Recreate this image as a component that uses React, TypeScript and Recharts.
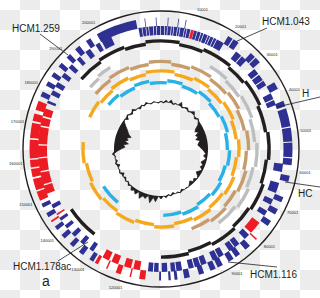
import React from 'react';
import {
  PieChart,
  Pie,
  Cell,
  RadarChart,
  Radar,
  PolarAngleAxis,
  PolarRadiusAxis
} from 'recharts';

// genome length in kb, everything is placed on this scale
const GENOME = 218;

// genes: [start kb, end kb, class] c = core (blue), i = island (red)
const fwdGenes = [
  [1.8, 2.0, 'c'], [4.6, 4.8, 'c'], [6.6, 6.8, 'c'],
  [18.6, 20.0, 'c'], [20.3, 21.9, 'c'], [26.1, 27.6, 'c'], [27.9, 29.5, 'c'],
  [36.0, 38.0, 'c'], [41.5, 43.0, 'c'], [43.6, 48.5, 'c'], [48.8, 52.5, 'c'],
  [52.8, 56.7, 'c'], [57.0, 58.8, 'c'], [61.6, 63.3, 'c'], [67.5, 69.0, 'c'],
  [71.0, 72.6, 'c'], [74.6, 76.2, 'c'], [80.6, 81.0, 'i'], [83.2, 84.8, 'c'],
  [86.6, 88.0, 'c'], [88.7, 90.2, 'c'], [92.0, 93.5, 'c'], [94.1, 95.6, 'c'],
  [97.4, 98.8, 'c'], [101.3, 102.8, 'c'], [104.6, 105.4, 'c'], [106.4, 107.0, 'c'],
  [109.0, 109.5, 'c'], [113.2, 114.8, 'i'], [117.0, 117.4, 'i'], [119.8, 121.2, 'i'],
  [123.6, 124.0, 'i'], [126.4, 127.3, 'i'], [127.8, 129.0, 'c'], [131.0, 132.4, 'c'],
  [134.3, 135.6, 'c'], [137.5, 138.8, 'c'], [140.5, 141.6, 'c'], [143.0, 143.5, 'i'],
  [144.6, 145.8, 'c'], [147.5, 148.6, 'c'], [149.5, 152.0, 'i'], [152.4, 155.5, 'i'],
  [156.0, 158.2, 'i'], [158.6, 160.6, 'i'], [161.0, 166.0, 'i'], [166.4, 170.5, 'i'],
  [171.0, 173.0, 'i'], [174.0, 176.5, 'i'], [177.8, 179.2, 'c'], [181.0, 182.3, 'c'],
  [183.8, 185.1, 'c'], [187.0, 188.3, 'c'], [190.2, 191.5, 'c'], [193.3, 194.8, 'c'],
  [196.9, 198.3, 'c'], [200.3, 211.3, 'c'], [213.6, 213.8, 'c'], [216.6, 216.8, 'c']
];

const revGenes = [
  [0, 0.9, 'c'], [1.1, 1.7, 'c'], [1.9, 2.8, 'c'], [3.0, 3.5, 'c'], [3.7, 4.6, 'c'],
  [4.8, 5.3, 'c'], [5.5, 6.6, 'c'], [6.8, 7.3, 'c'], [7.5, 8.4, 'c'], [8.6, 9.4, 'i'],
  [9.5, 10.3, 'c'], [10.5, 11.4, 'c'], [11.6, 12.2, 'c'], [12.4, 13.5, 'c'], [13.7, 14.2, 'c'],
  [14.4, 15.3, 'c'], [15.5, 16.2, 'c'], [16.4, 18.6, 'c'], [22.8, 24.6, 'c'], [24.9, 26.6, 'c'],
  [29.9, 31.7, 'c'], [32.0, 33.8, 'c'], [34.1, 35.6, 'c'], [38.2, 40.0, 'c'], [40.3, 41.8, 'c'],
  [58.7, 61.0, 'c'], [64.2, 67.2, 'c'], [69.2, 70.8, 'c'], [72.8, 74.4, 'c'], [76.8, 80.5, 'i'],
  [81.3, 83.0, 'c'], [85.0, 86.6, 'c'], [86.9, 88.5, 'c'], [90.4, 92.0, 'c'], [92.3, 93.9, 'c'],
  [95.8, 97.4, 'c'], [97.7, 99.3, 'c'], [99.6, 101.1, 'c'], [103.0, 104.6, 'c'], [104.9, 106.2, 'c'],
  [107.2, 108.8, 'c'], [109.7, 111.0, 'c'], [111.3, 112.7, 'c'], [115.0, 116.9, 'i'], [117.6, 119.6, 'i'],
  [121.4, 123.4, 'i'], [124.2, 126.2, 'i'], [129.3, 130.6, 'c'], [132.6, 133.9, 'c'], [135.9, 137.2, 'c'],
  [139.1, 140.2, 'c'], [141.9, 142.8, 'c'], [143.8, 144.3, 'i'], [146.0, 147.2, 'c'], [150.5, 153.0, 'i'],
  [153.4, 156.8, 'i'], [157.2, 160.8, 'i'], [161.2, 164.5, 'i'], [164.9, 169.8, 'i'], [170.2, 172.5, 'i'],
  [173.0, 175.2, 'i'], [176.8, 177.6, 'c'], [179.4, 180.8, 'c'], [182.0, 183.5, 'c'], [185.3, 186.7, 'c'],
  [188.5, 189.9, 'c'], [191.8, 193.0, 'c'], [195.0, 196.6, 'c'], [198.5, 199.8, 'c'], [200.5, 203.5, 'c'],
  [211.6, 212.5, 'c'], [212.7, 213.6, 'c'], [213.8, 214.4, 'c'], [214.6, 215.7, 'c'], [215.9, 216.6, 'c'],
  [216.8, 217.8, 'c']
];

// stepped tracks: [start kb, end kb, level 0/1]
const blackTrack = [
  [0, 6, 1], [6, 14, 0], [14, 24, 1], [24, 31, 0], [31, 40, 1], [40, 49, 0], [49, 58, 1],
  [58, 66, 0], [66, 75, 1], [75, 83, 0], [83, 92, 1], [92, 100, 0], [100, 109, 1],
  [132, 143, 1], [188.5, 197, 0], [197, 206, 1], [206, 213, 0], [213, 218, 1]
];
const grayTrack = [
  [18.6, 26, 1], [26.3, 34, 0], [34.3, 43, 1], [43.3, 52, 0], [52.3, 61, 1], [61.3, 69, 0],
  [69.3, 77, 1], [77.3, 86, 0], [188.4, 193, 0], [193.3, 198.7, 1]
];
const tanTrack = [
  [0, 4, 1], [4.2, 12, 0], [12.2, 21, 1], [21.2, 30, 0], [30.2, 38, 1], [38.2, 47, 0],
  [47.2, 55, 1], [55.2, 63, 0], [63.2, 72, 1], [72.2, 80, 0], [80.2, 88, 1], [88.2, 96.3, 0],
  [187.8, 196, 0], [196.2, 205, 1], [205.2, 213, 0], [213.2, 218, 1]
];
const orangeTrack = [
  [0, 6, 1], [6.2, 15, 0], [15.2, 23, 1], [23.2, 32, 0], [32.2, 41, 1], [41.2, 50, 0],
  [50.2, 58, 1], [58.2, 67, 0], [67.2, 76, 1], [76.2, 85, 0], [85.2, 94, 1], [94.2, 103, 0],
  [103.2, 112, 1], [112.2, 121, 0], [121.2, 130, 1], [130.2, 139, 0], [139.2, 148, 1],
  [148.2, 157, 0], [157.2, 166.6, 1], [178, 186, 1], [186.2, 194, 0], [194.2, 203, 1],
  [203.2, 211, 0], [211.2, 218, 1]
];
const cyanTrack = [
  [0, 3, 0], [3.2, 11, 1], [11.2, 20, 0], [20.2, 28, 1], [28.2, 37, 0], [37.2, 46, 1],
  [46.2, 55, 0], [55.2, 63, 1], [63.2, 72, 0], [72.2, 80, 1], [80.2, 89, 0], [89.2, 98, 1],
  [98.2, 107.8, 0], [132.6, 143.5, 1], [187.8, 195, 1], [195.2, 204, 0], [204.2, 212, 1],
  [212.2, 218, 0]
];

// GC content, one window every 3 degrees starting at the top
const GC_BASE = 47;
const gcValues = [
  48, 46, 49, 47, 50, 46, 48, 47, 51, 46, 48, 49, 46, 48, 50, 47, 45, 48, 46, 44,
  40, 38, 41, 37, 39, 36, 40, 38, 37, 39, 41, 43,
  45, 43, 46, 44, 42, 45, 43, 46, 44, 42, 45, 47, 44, 46, 43, 45, 47, 46,
  47, 45, 48, 46, 47, 45, 48, 46, 49, 47,
  50, 47, 53, 49, 55, 48, 52, 50, 54, 48, 52, 49, 51, 47, 49,
  46, 48, 45, 47, 44, 48, 46, 47, 44, 48, 45, 47, 46, 49, 44,
  40, 36, 38, 33, 37, 34, 36, 32, 35, 37, 39, 42,
  45, 47, 44, 48, 46, 45, 49, 46, 47, 45, 48, 46, 49, 47, 46, 48, 47, 46
];

const tickKb = [0, 10, 20, 30, 40, 50, 60, 70, 80, 90, 100, 110, 120, 130, 140, 150, 160, 170, 180, 190, 200, 210];
const tickLabels = ['', '10001', '20001', '30001', '40001', '50001', '60001', '70001', '80001', '90001',
  '', '', '120001', '130001', '140001', '150001', '160001', '170001', '180001', '190001', '200001', ''];

const CX = 161;
const CY = 149;
const INK = '#231f20';
const BLUE = '#2e3192';
const RED = '#ed1c24';

// fill the gaps between segments so the pie covers the whole genome
function toSlices(segs) {
  const sorted = [...segs].sort((a, b) => a[0] - b[0]);
  const out = [];
  let pos = 0;
  sorted.forEach(([s, e, k]) => {
    if (s > pos) out.push({ value: s - pos, kind: 'gap' });
    out.push({ value: e - s, kind: k });
    pos = e;
  });
  if (pos < GENOME) out.push({ value: GENOME - pos, kind: 'gap' });
  return out;
}

const level = (segs, l) => segs.filter((s) => s[2] === l).map(([s, e]) => [s, e, 'on']);

const gcData = gcValues.map((v, i) => ({
  pos: i,
  gc: v,
  hi: Math.max(v, GC_BASE),
  lo: Math.min(v, GC_BASE)
}));

const tickData = tickKb.map((k, i) => ({
  value: (i < tickKb.length - 1 ? tickKb[i + 1] : GENOME) - k,
  label: tickLabels[i]
}));

const RADIAN = Math.PI / 180;

function renderTick(props) {
  const { cx, cy, startAngle, index } = props;
  const text = tickLabels[index];
  if (!text) return null;
  const r = 146;
  const x = cx + r * Math.cos(-startAngle * RADIAN);
  const y = cy + r * Math.sin(-startAngle * RADIAN);
  return (
    <text x={x} y={y} fill={INK} fontSize={4} textAnchor="middle" dominantBaseline="central">
      {text}
    </text>
  );
}

function ring(key, data, inner, outer, colorOf) {
  return (
    <Pie
      key={key}
      data={data}
      dataKey="value"
      cx={CX}
      cy={CY}
      innerRadius={inner}
      outerRadius={outer}
      startAngle={90}
      endAngle={-270}
      stroke="none"
      isAnimationActive={false}
    >
      {data.map((d, i) => (
        <Cell key={`c-${i}`} fill={d.kind === 'gap' ? 'none' : colorOf(d.kind)} stroke="none" />
      ))}
    </Pie>
  );
}

function stepped(key, segs, rc, color) {
  const th = 3.4;
  const step = 2.2;
  return [
    ring(key + '-lo', toSlices(level(segs, 0)), rc - step / 2 - th / 2, rc - step / 2 + th / 2, () => color),
    ring(key + '-hi', toSlices(level(segs, 1)), rc + step / 2 - th / 2, rc + step / 2 + th / 2, () => color)
  ];
}

const geneColor = (k) => (k === 'i' ? RED : BLUE);
const layer = { position: 'absolute', left: 0, top: 0 } as React.CSSProperties;

export default function GenomeMap() {
  return (
    <div style={{ position: 'absolute', left: 0, top: 0, width: 320, height: 298, fontFamily: '"Liberation Sans", Arial, sans-serif' }}>
      {/* transparent-image checkerboard behind the figure */}
      <svg width={320} height={298} style={layer}>
        <defs>
          <pattern id="chk" x={0} y={10} width={40} height={40} patternUnits="userSpaceOnUse">
            <rect width={40} height={40} fill="#ffffff" />
            <rect width={20} height={20} fill="#ececec" />
            <rect x={20} y={20} width={20} height={20} fill="#ececec" />
          </pattern>
        </defs>
        <rect width={320} height={298} fill="url(#chk)" />
      </svg>

      <div style={layer}>
        <PieChart width={320} height={298} margin={{ top: 0, right: 0, bottom: 0, left: 0 }}>
          {ring('outer', [{ value: GENOME, kind: 'line' }], 137.3, 138.7, () => INK)}
          <Pie
            data={tickData}
            dataKey="value"
            cx={CX}
            cy={CY}
            innerRadius={0}
            outerRadius={138}
            startAngle={90}
            endAngle={-270}
            fill="none"
            stroke="none"
            label={renderTick}
            labelLine={false}
            isAnimationActive={false}
          />
          {ring('fwd', toSlices(fwdGenes), 122.5, 131.5, geneColor)}
          {ring('rev', toSlices(revGenes), 114, 123, geneColor)}
          {stepped('black', blackTrack, 107, INK)}
          {stepped('gray', grayTrack, 95, '#bcbec0')}
          {stepped('tan', tanTrack, 86.5, '#c69c6d')}
          {stepped('orange', orangeTrack, 77, '#f6a81c')}
          {stepped('cyan', cyanTrack, 67.5, '#27b1e6')}
        </PieChart>
      </div>

      {/* GC content plot in the middle */}
      <div style={layer}>
        <RadarChart width={320} height={298} cx={CX} cy={CY} outerRadius={55} data={gcData}
          margin={{ top: 0, right: 0, bottom: 0, left: 0 }}>
          <PolarAngleAxis dataKey="pos" tick={false} axisLine={false} />
          <PolarRadiusAxis domain={[0, 55]} tick={false} axisLine={false} />
          <Radar dataKey="hi" fill={INK} fillOpacity={1} stroke="none" isAnimationActive={false} />
          <Radar dataKey="lo" fill="url(#chk)" fillOpacity={1} stroke="none" isAnimationActive={false} />
          <Radar dataKey="gc" fill="none" stroke={INK} strokeWidth={0.7} isAnimationActive={false} />
        </RadarChart>
      </div>

      {/* strain annotations */}
      <svg width={320} height={298} style={layer}>
        <g stroke={INK} strokeWidth={0.8}>
          <line x1={40} y1={34} x2={68} y2={55} />
          <line x1={267} y1={28} x2={235} y2={42} />
          <line x1={320} y1={97} x2={277} y2={107} />
          <line x1={320} y1={187} x2={285} y2={182} />
          <line x1={58} y1={261} x2={88} y2={242} />
          <line x1={228} y1={262} x2={277} y2={267} />
        </g>
        <g fill={INK} fontSize={10}>
          <text x={12} y={32}>HCM1.259</text>
          <text x={262} y={25}>HCM1.043</text>
          <text x={302} y={97}>H</text>
          <text x={298} y={197}>HC</text>
          <text x={13} y={270}>HCM1.178ac</text>
          <text x={250} y={278}>HCM1.116</text>
          <text x={42} y={286} fontSize={14}>a</text>
        </g>
      </svg>
    </div>
  );
}
